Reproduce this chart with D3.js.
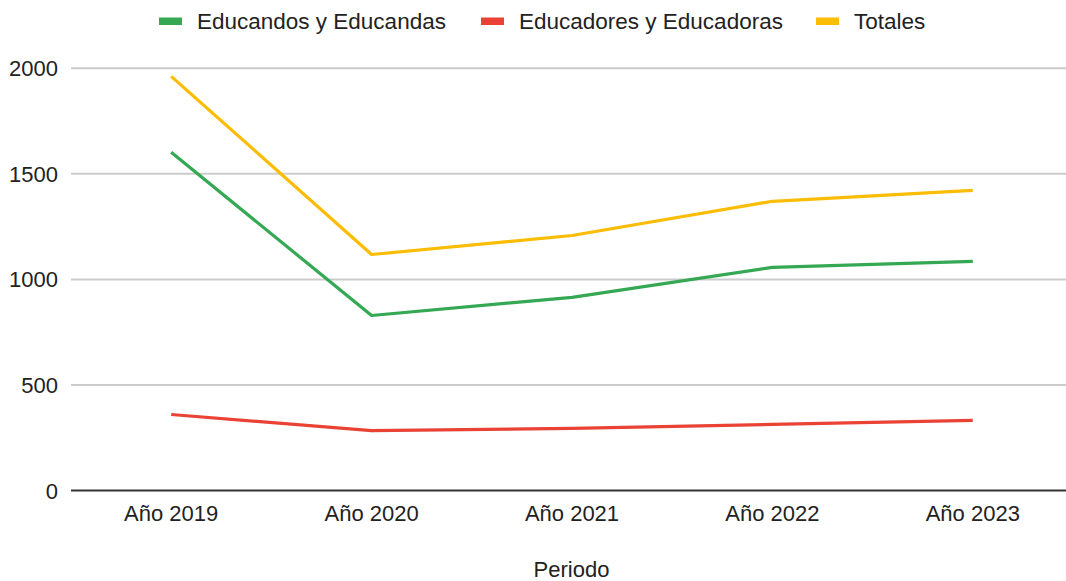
<!DOCTYPE html>
<html><head><meta charset="utf-8">
<script src="https://cdn.jsdelivr.net/npm/d3@7"></script>
<style>body{margin:0;background:#fff}svg{display:block}text{font-family:"Liberation Sans",Arial,sans-serif;fill:#222}</style>
</head><body><svg id="c" width="1066" height="581"></svg>
<script>
const categories = ["Año 2019","Año 2020","Año 2021","Año 2022","Año 2023"];
const educandos = [1602, 829, 915, 1057, 1085];
const educadores = [360, 284, 294, 313, 332];
const totales = [1962, 1118, 1208, 1370, 1422];
const seriesNames = ["Educandos y Educandas","Educadores y Educadoras","Totales"];
const seriesColors = ["#34a853","#ea4335","#fbbc04"];
const yTicks = [0,500,1000,1500,2000];
const xTitle = "Periodo";

const svg = d3.select("#c");
const pLeft = 71, pRight = 1073, pTop = 68.3, pBottom = 490.5;
const x = d3.scalePoint().domain(categories).range([pLeft, pRight]).padding(0.5);
const y = d3.scaleLinear().domain([0,2000]).range([pBottom, pTop]);

// gridlines
svg.append("g").selectAll("line").data(yTicks.filter(d=>d>0)).join("line")
  .attr("x1", pLeft).attr("x2", 1066).attr("y1", d=>y(d)).attr("y2", d=>y(d))
  .attr("stroke","#ccc").attr("stroke-width",2);
// y labels
svg.append("g").selectAll("text").data(yTicks).join("text")
  .attr("x", 58).attr("y", d=>y(d)+8).attr("text-anchor","end")
  .style("font-size","22px").text(d=>d);
// x labels
svg.append("g").selectAll("text").data(categories).join("text")
  .attr("x", d=>x(d)).attr("y", 521).attr("text-anchor","middle")
  .style("font-size","22px").text(d=>d);
svg.append("text").attr("x",571.5).attr("y",577).attr("text-anchor","middle")
  .style("font-size","22px").text(xTitle);

const data = [educandos, educadores, totales];
const line = d3.line().x((d,i)=>x(categories[i])).y(d=>y(d));
svg.append("g").selectAll("path").data(data).join("path")
  .attr("d", line).attr("fill","none")
  .attr("stroke",(d,i)=>seriesColors[i]).attr("stroke-width",3.2)
  .attr("stroke-linejoin","round");
// baseline axis
svg.append("line").attr("x1",pLeft).attr("x2",1066).attr("y1",y(0)).attr("y2",y(0))
  .attr("stroke","#333").attr("stroke-width",2);

// legend
const legX = [159, 481, 816];
const lg = svg.append("g").selectAll("g").data(seriesNames).join("g")
  .attr("transform",(d,i)=>`translate(${legX[i]},0)`);
lg.append("rect").attr("x",0).attr("y",17.5).attr("width",23).attr("height",7.5)
  .attr("fill",(d,i)=>seriesColors[i]);
lg.append("text").attr("x",38).attr("y",29).style("font-size","22.5px").text(d=>d);
</script></body></html>
